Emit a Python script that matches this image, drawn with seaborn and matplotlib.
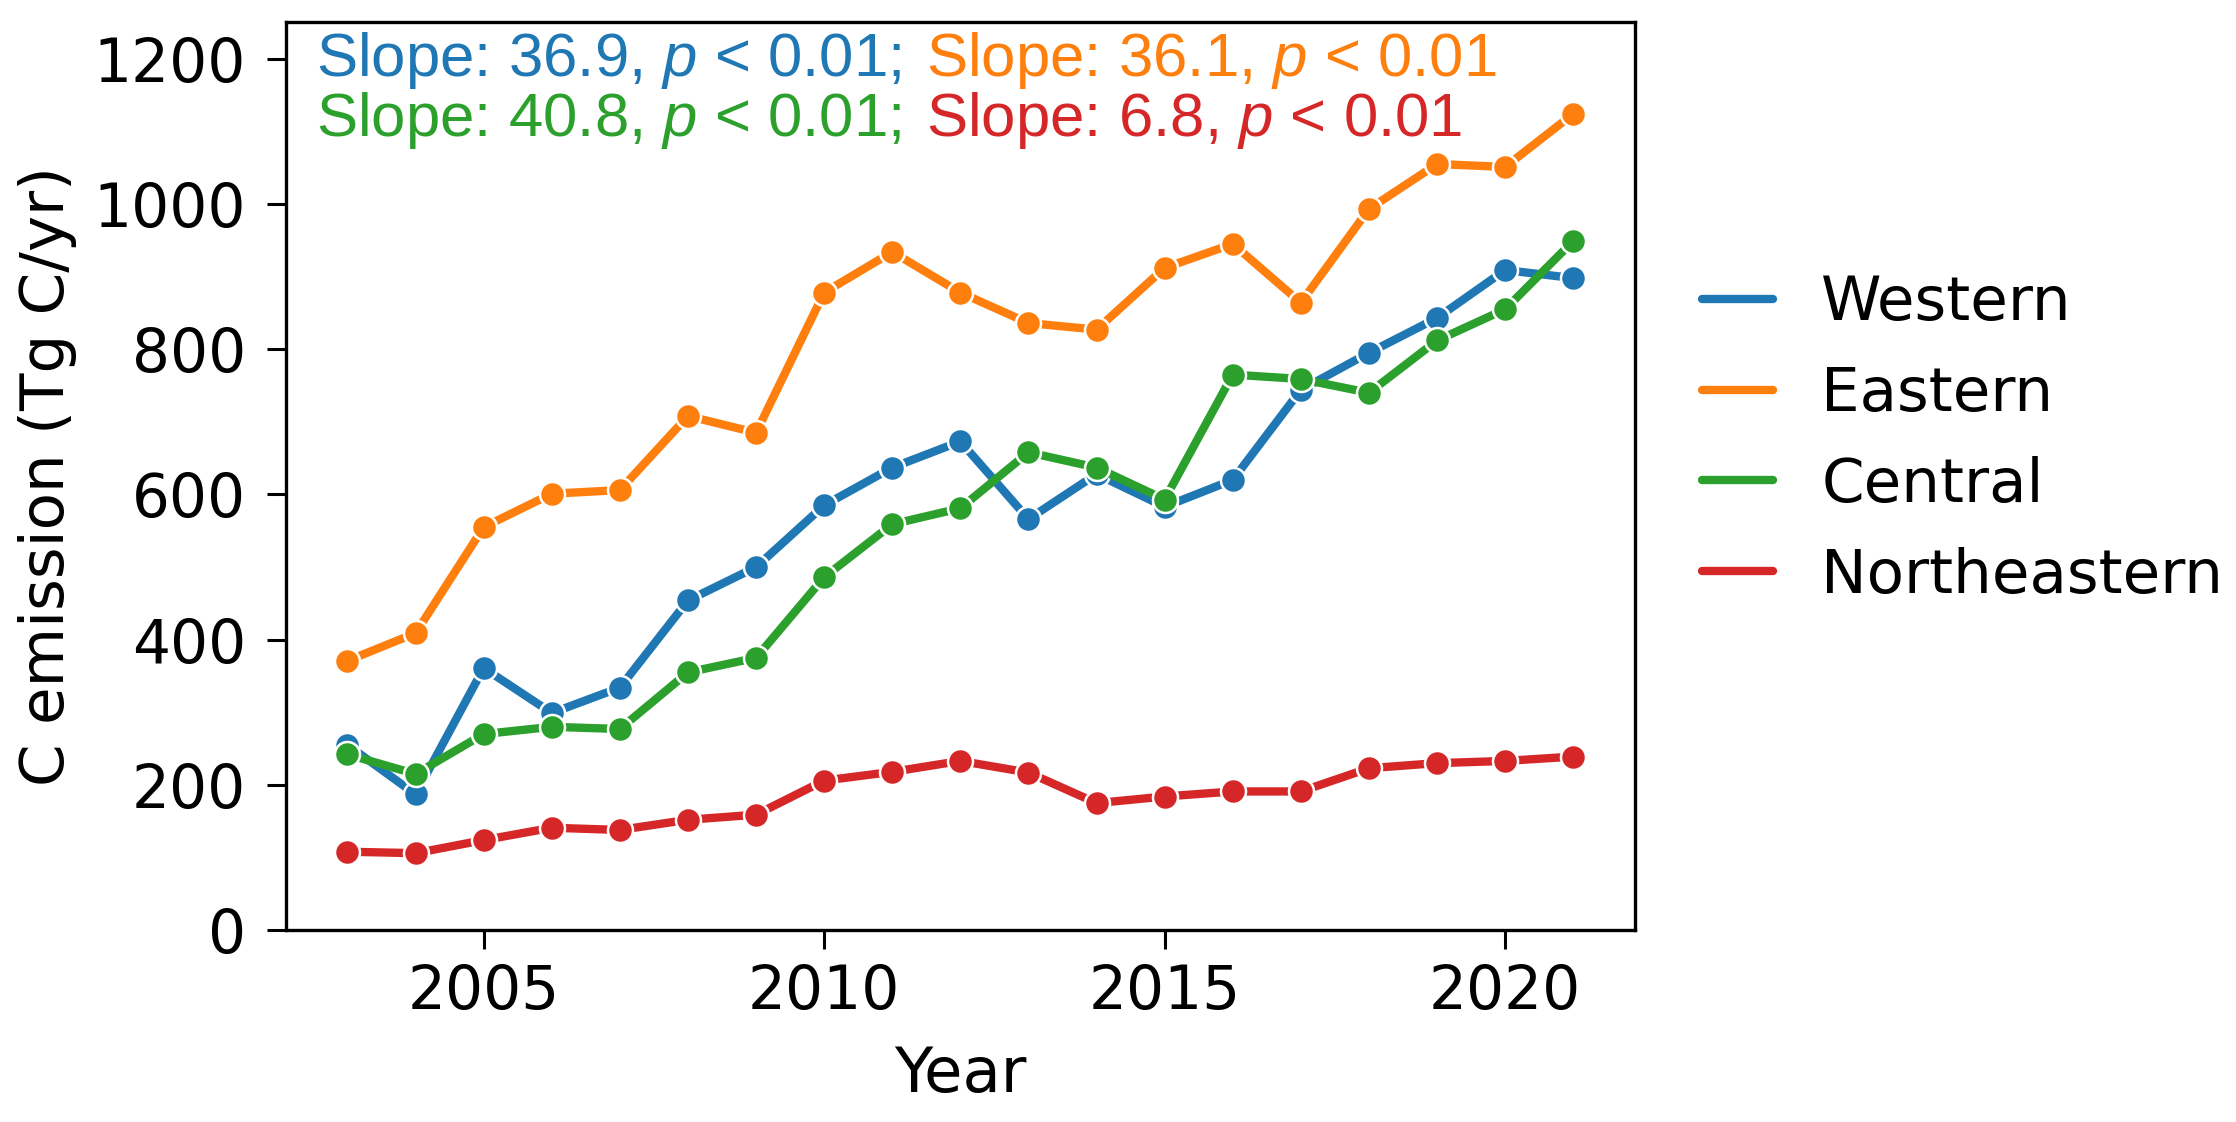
import seaborn as sns
import matplotlib.pyplot as plt
import pandas as pd
from matplotlib.lines import Line2D

# yearly C emission per region (Tg C/yr)
years = list(range(2003, 2022))
western = [255, 187, 361, 299, 334, 454, 500, 585, 637, 673, 566, 628, 583, 620, 744, 795, 843, 909, 898]
eastern = [371, 409, 555, 601, 606, 708, 685, 878, 934, 878, 836, 827, 912, 945, 864, 993, 1055, 1051, 1124]
central = [242, 215, 270, 280, 277, 355, 375, 486, 559, 581, 658, 637, 593, 765, 759, 740, 812, 855, 949]
northeastern = [108, 106, 124, 141, 138, 152, 159, 206, 218, 233, 217, 175, 184, 191, 191, 223, 230, 233, 239]
regions = ["Western", "Eastern", "Central", "Northeastern"]
slopes = ["36.9", "36.1", "40.8", "6.8"]

df = pd.DataFrame({
    "Year": years * 4,
    "emission": western + eastern + central + northeastern,
    "Region": [r for r in regions for _ in years],
})

sns.set_style("ticks", {"axes.edgecolor": "black", "xtick.color": "black",
                        "ytick.color": "black", "text.color": "black",
                        "axes.labelcolor": "black"})
plt.rcParams["font.family"] = ["DejaVu Sans"]
plt.rcParams["mathtext.fontset"] = "custom"
plt.rcParams["mathtext.rm"] = "Liberation Sans"
plt.rcParams["mathtext.it"] = "Liberation Sans:italic"

pal = sns.color_palette("tab10", 4)

fig = plt.figure(figsize=(22.36, 11.22), dpi=100)
ax = fig.add_axes([0.128, 0.171, 0.603, 0.809])

sns.lineplot(data=df, x="Year", y="emission", hue="Region", hue_order=regions,
             palette=pal, marker="o", markersize=18, markeredgecolor="white",
             markeredgewidth=1.8, linewidth=6, ax=ax, legend=False)

ax.set_ylim(0, 1250)
ax.set_yticks(range(0, 1201, 200))
ax.set_xticks([2005, 2010, 2015, 2020])
ax.set_xlabel("Year", fontsize=45, labelpad=16)
ax.set_ylabel("C emission (Tg C/yr)", fontsize=44, labelpad=12)
ax.tick_params(labelsize=43, width=2.2, length=14, colors="black")
ax.tick_params(axis="y", pad=15)
ax.tick_params(axis="x", pad=10)
for s in ax.spines.values():
    s.set_linewidth(2.4)

# slope annotations, coloured per region
tfont = dict(fontsize=44.5, family="Liberation Sans")
t1 = ax.text(0.022, 0.992, f"Slope: {slopes[0]}, $p$ < 0.01;", color=pal[0],
             transform=ax.transAxes, va="top", ha="left", **tfont)
ax.annotate(f"Slope: {slopes[1]}, $p$ < 0.01", xy=(1, 0), xycoords=t1,
            xytext=(18, 0), textcoords="offset points",
            va="bottom", ha="left", color=pal[1], **tfont)
t3 = ax.text(0.022, 0.926, f"Slope: {slopes[2]}, $p$ < 0.01;", color=pal[2],
             transform=ax.transAxes, va="top", ha="left", **tfont)
ax.annotate(f"Slope: {slopes[3]}, $p$ < 0.01", xy=(1, 0), xycoords=t3,
            xytext=(18, 0), textcoords="offset points",
            va="bottom", ha="left", color=pal[3], **tfont)

handles = [Line2D([0], [0], color=c, lw=6) for c in pal]
ax.legend(handles, regions, loc="center left", bbox_to_anchor=(1.009, 0.54),
          frameon=False, fontsize=44, handlelength=1.17, handletextpad=0.79,
          labelspacing=0.52)

fig.savefig("out.png", dpi=100)
